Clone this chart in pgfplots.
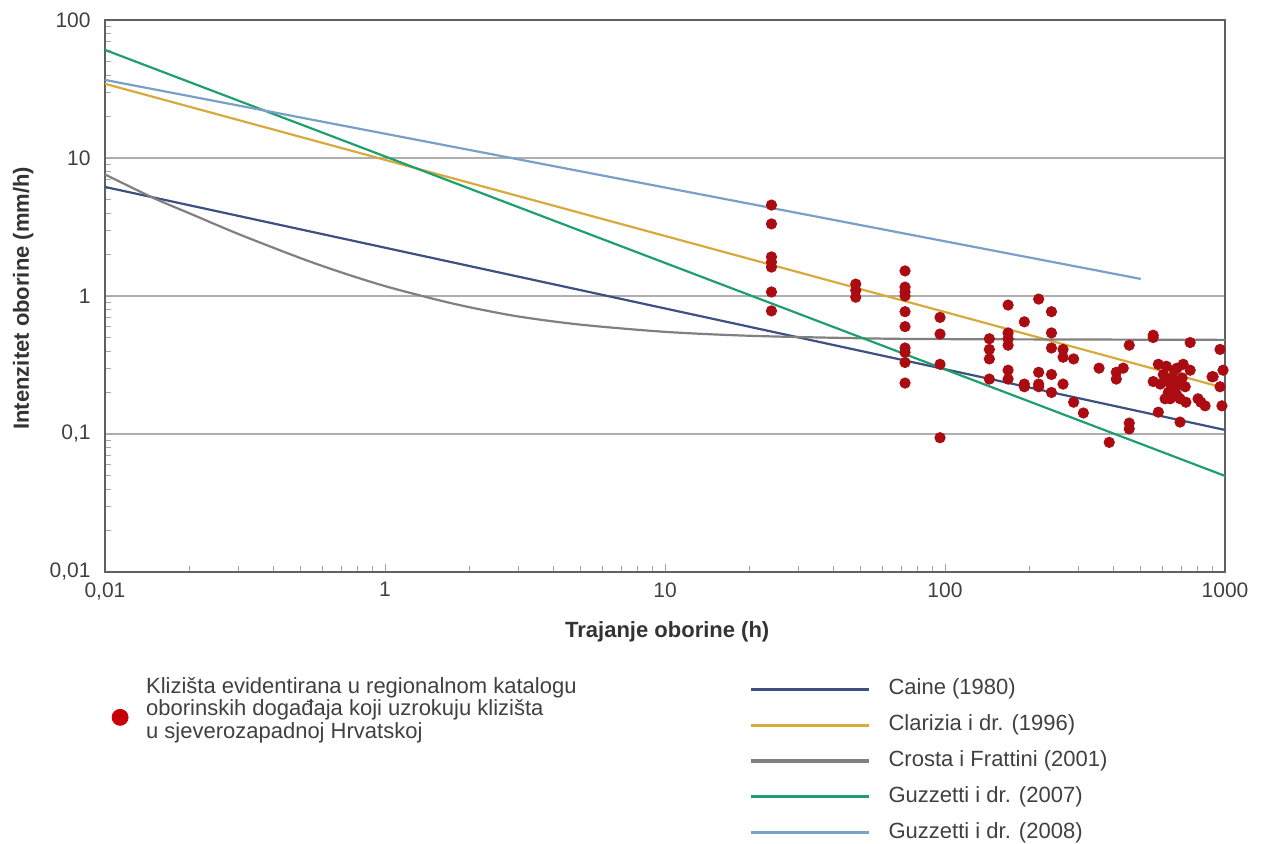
\documentclass[border=0pt]{standalone}
\usepackage{fontspec}
\setmainfont{Liberation Sans}
\usepackage{pgfplots}
\pgfplotsset{compat=1.18}

\definecolor{caine}{RGB}{60,80,130}
\definecolor{clarizia}{RGB}{215,170,60}
\definecolor{crosta}{RGB}{128,128,128}
\definecolor{guz07}{RGB}{30,160,110}
\definecolor{guz08}{RGB}{120,160,200}
\definecolor{pts}{RGB}{170,12,18}
\definecolor{legred}{RGB}{200,0,10}
\definecolor{txt}{RGB}{64,64,64}
\definecolor{gridc}{RGB}{175,175,175}

\begin{document}
\begin{tikzpicture}
\path[use as bounding box] (0,0) rectangle (632.5pt,421.5pt);

\begin{axis}[
  at={(52.5pt,135.5pt)}, anchor=south west,
  scale only axis, width=560pt, height=276pt,
  xmode=log, ymode=log,
  xmin=0.1, xmax=1000, ymin=0.01, ymax=100,
  xtick={0.1,1,10,100,1000},
  xticklabels={{0,01},1,10,100,1000},
  ytick={0.01,0.1,1,10,100},
  yticklabels={{0,01},{0,1},1,10,100},
  xtick pos=bottom, ytick pos=left,
  tick align=inside,
  major tick length=4pt, minor tick length=3pt,
  every tick/.style={gray!70},
  ymajorgrids, grid style={gridc, line width=0.7pt},
  axis line style={gray!75!black, line width=0.7pt},
  ticklabel style={font=\fontsize{10.5}{12}\selectfont, text=txt},
  xticklabel style={anchor=north, inner sep=0pt, yshift=-5pt},
  yticklabel style={anchor=east, inner sep=0pt, xshift=-7pt},
  xlabel={\bfseries Trajanje oborine (h)},
  ylabel={\bfseries Intenzitet oborine (mm/h)},
  label style={font=\fontsize{11}{13}\selectfont, text=black!80},
  xlabel style={at={(axis description cs:0.502,-0.109)}, anchor=center},
  ylabel style={at={(axis description cs:-0.073,0.496)}, anchor=center},
  legend cell align=left,
  legend image code/.code={\draw[#1, line width=1.6pt] (0pt,0pt) -- (59pt,0pt);},
  legend style={at={(0.575,-0.193)}, anchor=north west, draw=none, fill=none,
    font=\fontsize{11}{13}\selectfont, text=txt,
    row sep=7.4pt, column sep=9pt, inner sep=0pt,
    nodes={inner sep=0pt, text height=8pt, text depth=2.5pt}},
]

\addplot[caine, line width=1.1pt] coordinates {(0.1,6.17) (1000,0.107)};
\addlegendentry{Caine (1980)}
\addplot[clarizia, line width=1.1pt] coordinates {(0.1,34.5) (1000,0.215)};
\addlegendentry{Clarizia i dr. (1996)}
\addplot[crosta, line width=1.1pt, smooth] coordinates {
  (0.1,7.6) (0.15,5.1) (0.2,3.98) (0.3,2.81) (0.5,1.88) (0.7,1.48)
  (1,1.18) (1.5,0.95) (2,0.83) (3,0.71) (5,0.62) (10,0.55)
  (20,0.515) (50,0.494) (100,0.487) (1000,0.481)};
\addlegendentry{Crosta i Frattini (2001)}
\addplot[guz07, line width=1.1pt] coordinates {(0.1,60.7) (1000,0.0497)};
\addlegendentry{Guzzetti i dr. (2007)}
\addplot[guz08, line width=1.1pt] coordinates {(0.1,36.8) (500,1.33)};
\addlegendentry{Guzzetti i dr. (2008)}

\addplot[only marks, mark=*, mark size=2.6pt, color=pts, forget plot] coordinates {
  (24,4.56) (24,3.33) (24,1.92) (24,1.76) (24,1.62) (24,1.07) (24,0.78)
  (48,1.22) (48,1.10) (48,0.98)
  (72,1.52) (72,1.16) (72,1.07) (72,1.0) (72,0.77) (72,0.60) (72,0.42)
  (72,0.39) (72,0.33) (72,0.234)
  (96,0.70) (96,0.53) (96,0.32) (96,0.094)
  (144,0.49) (144,0.41) (144,0.35) (144,0.25)
  (168,0.86) (168,0.54) (168,0.49) (168,0.44) (168,0.29) (168,0.25)
  (192,0.65) (192,0.23) (192,0.22)
  (216,0.95) (216,0.28) (216,0.23) (216,0.22)
  (240,0.77) (240,0.54) (240,0.42) (240,0.27) (240,0.20)
  (264,0.41) (264,0.36) (264,0.23)
  (288,0.35) (288,0.17) (312,0.142)
  (355,0.30) (386,0.087) (409,0.28) (409,0.25) (433,0.30)
  (455,0.44) (455,0.12) (455,0.109)
  (554,0.52) (554,0.50) (554,0.24) (578,0.32) (578,0.144)
  (691,0.122) (751,0.46) (751,0.29) (801,0.18) (849,0.16) (820,0.17)
  (960,0.41) (984,0.29) (907,0.26) (960,0.22) (975,0.16) (899,0.26)
  (674,0.30) (691,0.18) (725,0.17)
  (602,0.27) (622,0.25) (637,0.23) (648,0.255) (663,0.21) (627,0.20)
  (611,0.18) (680,0.23) (703,0.255) (659,0.29) (721,0.22) (637,0.18)
  (587,0.23) (674,0.19) (617,0.31) (709,0.32)
};
\end{axis}

\begin{axis}[
  at={(52.5pt,135.5pt)}, anchor=south west,
  scale only axis, width=560pt, height=276pt,
  hide axis, xmin=0, xmax=1, ymin=0, ymax=1,
  legend style={at={(0.006,-0.190)}, anchor=north west, draw=none, fill=none,
    font=\fontsize{11}{10.75}\selectfont, text=txt,
    column sep=9pt, inner sep=0pt, nodes={inner sep=0pt}},
]
\addlegendimage{only marks, mark=*, mark size=4pt, color=legred, yshift=-9.5pt}
\addlegendentry{\begin{tabular}{@{}l@{}}Klizišta evidentirana u regionalnom katalogu\\oborinskih događaja koji uzrokuju klizišta\\u sjeverozapadnoj Hrvatskoj\end{tabular}}
\end{axis}
\end{tikzpicture}
\end{document}
